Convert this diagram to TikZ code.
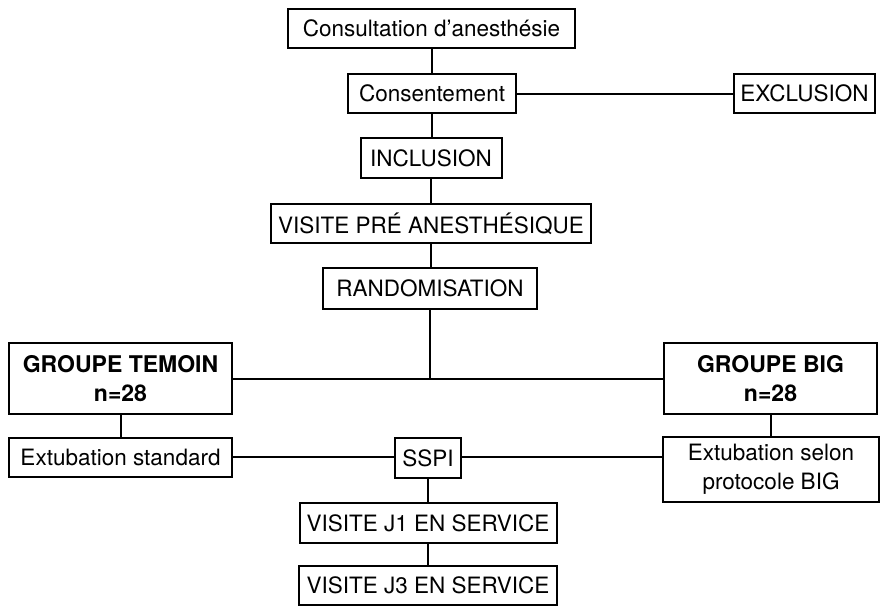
\documentclass[tikz,border=0pt]{standalone}
\usepackage{fontspec}
\setmainfont{TeX Gyre Heros}
\begin{document}
\begin{tikzpicture}[x=1pt,y=-1pt,
  box/.style={draw=black,line width=2pt,rectangle,inner sep=0pt,align=center,
    font=\fontsize{22.5}{29}\selectfont},
  conn/.style={line width=2pt}]
\useasboundingbox (0,0) rectangle (880,606);
\node[box,minimum width=287,minimum height=39] (cons) at (431.5,28.5) {Consultation d’anesthésie};
\node[box,minimum width=168,minimum height=39] (consent) at (432,93.5) {Consentement};
\node[box,minimum width=141,minimum height=39] (excl) at (804.5,93.5) {EXCLUSION};
\node[box,minimum width=141,minimum height=40] (incl) at (431,158) {INCLUSION};
\node[box,minimum width=320,minimum height=39] (vpa) at (431,223.5) {VISITE PRÉ ANESTHÉSIQUE};
\node[box,minimum width=214,minimum height=41] (rand) at (430,288.5) {RANDOMISATION};
\node[box,minimum width=223,minimum height=71,font=\fontsize{23}{29}\selectfont\bfseries] (gt) at (120.5,378.5) {GROUPE TEMOIN\\n=28};
\node[box,minimum width=213,minimum height=71,font=\fontsize{23}{29}\selectfont\bfseries] (gb) at (770.5,378.5) {GROUPE BIG\\n=28};
\node[box,minimum width=223,minimum height=39] (ext) at (120.5,457) {Extubation standard};
\node[box,minimum width=66,minimum height=40] (sspi) at (428,458) {SSPI};
\node[box,minimum width=216,minimum height=65] (extb) at (771,469.5) {Extubation selon\\protocole BIG};
\node[box,minimum width=257,minimum height=40] (j1) at (428,523) {VISITE J1 EN SERVICE};
\node[box,minimum width=258,minimum height=39] (j3) at (428,585.5) {VISITE J3 EN SERVICE};
\coordinate (junc) at (rand.south |- gt.east);
\draw[conn] (cons.south) -- (cons.south |- consent.north);
\draw[conn] (consent.east) -- (excl.west);
\draw[conn] (consent.south) -- (consent.south |- incl.north);
\draw[conn] (incl.south) -- (incl.south |- vpa.north);
\draw[conn] (vpa.south) -- (vpa.south |- rand.north);
\draw[conn] (rand.south) -- (junc);
\draw[conn] (gt.east) -- (gb.west);
\draw[conn] (gt.south) -- (ext.north);
\draw[conn] (gb.south) -- (gb.south |- extb.north);
\draw[conn] (ext.east) -- (ext.east -| sspi.west);
\draw[conn] (sspi.east |- ext.east) -- (ext.east -| extb.west);
\draw[conn] (sspi.south) -- (j1.north);
\draw[conn] (j1.south) -- (j3.north);
\end{tikzpicture}
\end{document}
